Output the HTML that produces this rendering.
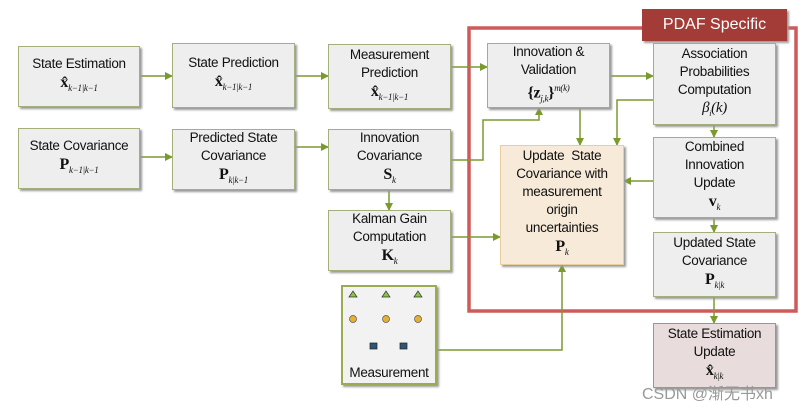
<!DOCTYPE html>
<html><head><meta charset="utf-8"><style>
body{margin:0;background:#fff;width:809px;height:411px;position:relative;overflow:hidden;font-family:"Liberation Sans",sans-serif;}
.b{position:absolute;box-sizing:border-box;background:#eeeeee;border:1px solid #a4b07c;box-shadow:2px 2px 2px #999;text-align:center;font-size:13.5px;color:#111;line-height:18px;display:flex;flex-direction:column;justify-content:center;align-items:center;letter-spacing:-0.3px;white-space:nowrap}
.m{font-family:"Liberation Serif",serif;font-weight:bold;font-size:16px;line-height:19px}
.m sub{font-weight:normal;font-style:italic;font-size:9px}
.i{font-family:"Liberation Serif",serif;font-style:italic;font-size:15px}
</style></head><body>
<svg width="809" height="411" style="position:absolute;left:0;top:0">
<defs><marker id="a" markerWidth="8" markerHeight="8" refX="7" refY="4" orient="auto" markerUnits="userSpaceOnUse"><path d="M0,0 L8,4 L0,8z" fill="#7a9a2e"/></marker></defs>
<rect x="469" y="28" width="327" height="283" fill="none" stroke="#cf5a5a" stroke-width="3.5"/>
<g stroke="#7a9a2e" stroke-width="1.5" fill="none" marker-end="url(#a)">
<path d="M140,76 H172"/><path d="M295,76 H328"/><path d="M451,67 H487"/>
<path d="M140,157 H172"/><path d="M295,147 H328"/>
<path d="M451,160 H483 V120 H539 V108"/>
<path d="M389,190 V210"/><path d="M451,237 H500"/>
<path d="M436,350 H562 V265"/>
<path d="M609,76 H653"/><path d="M580,108 V145"/>
<path d="M653,100 H617 V145"/><path d="M714,125 V137"/>
<path d="M653,181 H624"/><path d="M714,218 V232"/><path d="M714,297 V323"/>
</g>
</svg>
<div style="position:absolute;left:642px;top:9px;width:145px;height:32px;background:#a33b36;color:#fff;font-size:16px;line-height:32px;text-align:center;box-shadow:2px 2px 2px #999">PDAF Specific</div>
<div class="b" style="left:18px;top:46px;width:122px;height:61px">State Estimation<div class="m">x̂<sub>k−1|k−1</sub></div></div>
<div class="b" style="left:172px;top:43px;width:123px;height:65px">State Prediction<div class="m">x̂<sub>k−1|k−1</sub></div></div>
<div class="b" style="left:328px;top:44px;width:123px;height:65px">Measurement<br>Prediction<div class="m">x̂<sub>k−1|k−1</sub></div></div>
<div class="b" style="left:18px;top:128px;width:122px;height:61px">State Covariance<div class="m">P<sub>k−1|k−1</sub></div></div>
<div class="b" style="left:172px;top:129px;width:123px;height:61px">Predicted State<br>Covariance<div class="m">P<sub>k|k−1</sub></div></div>
<div class="b" style="left:328px;top:129px;width:123px;height:61px">Innovation<br>Covariance<div class="m">S<sub>k</sub></div></div>
<div class="b" style="left:328px;top:210px;width:123px;height:61px">Kalman Gain<br>Computation<div class="m">K<sub>k</sub></div></div>
<div class="b" style="left:341px;top:285px;width:96px;height:100px;background:#f2f2f2;border:2px solid #9aab50;justify-content:flex-end;padding-bottom:1px">Measurement</div>
<svg width="809" height="411" style="position:absolute;left:0;top:0">
<g fill="#8cc63f" stroke="#333" stroke-width="0.7"><path d="M349,297 L353,291 L357,297z"/><path d="M382,297 L386,291 L390,297z"/><path d="M414,297 L418,291 L422,297z"/></g>
<g fill="#e8b030" stroke="#555" stroke-width="0.7"><circle cx="353" cy="319" r="3.5"/><circle cx="386" cy="319" r="3.5"/><circle cx="418" cy="319" r="3.5"/></g>
<g fill="#2e5577" stroke="#222" stroke-width="0.7"><rect x="370" y="343" width="7" height="6"/><rect x="400" y="343" width="7" height="6"/></g>
</svg>
<div class="b" style="left:487px;top:43px;width:123px;height:65px">Innovation &amp;<br>Validation<div class="m">{z<sub>j,k</sub>}<sup style="font-size:9px;font-weight:normal;font-style:italic">m(k)</sup></div></div>
<div class="b" style="left:653px;top:43px;width:123px;height:82px">Association<br>Probabilities<br>Computation<div class="i">β<sub style="font-size:8px">i</sub>(k)</div></div>
<div class="b" style="left:500px;top:145px;width:124px;height:120px;background:#f7ead8;border-color:#e6cf9c">Update &nbsp;State<br>Covariance with<br>measurement<br>origin<br>uncertainties<div class="m">P<sub>k</sub></div></div>
<div class="b" style="left:653px;top:137px;width:123px;height:81px">Combined<br>Innovation<br>Update<div class="m">v<sub>k</sub></div></div>
<div class="b" style="left:653px;top:232px;width:123px;height:65px">Updated State<br>Covariance<div class="m">P<sub>k|k</sub></div></div>
<div class="b" style="left:653px;top:323px;width:123px;height:65px;background:#e8dcdc;border-color:#c98080">State Estimation<br>Update<div class="m">x̂<sub>k|k</sub></div></div>
<div style="position:absolute;left:642px;top:380px;font-size:16px;color:#999;font-family:'Liberation Sans','Noto Sans CJK SC',sans-serif">CSDN @渐无书xh</div>
</body></html>
